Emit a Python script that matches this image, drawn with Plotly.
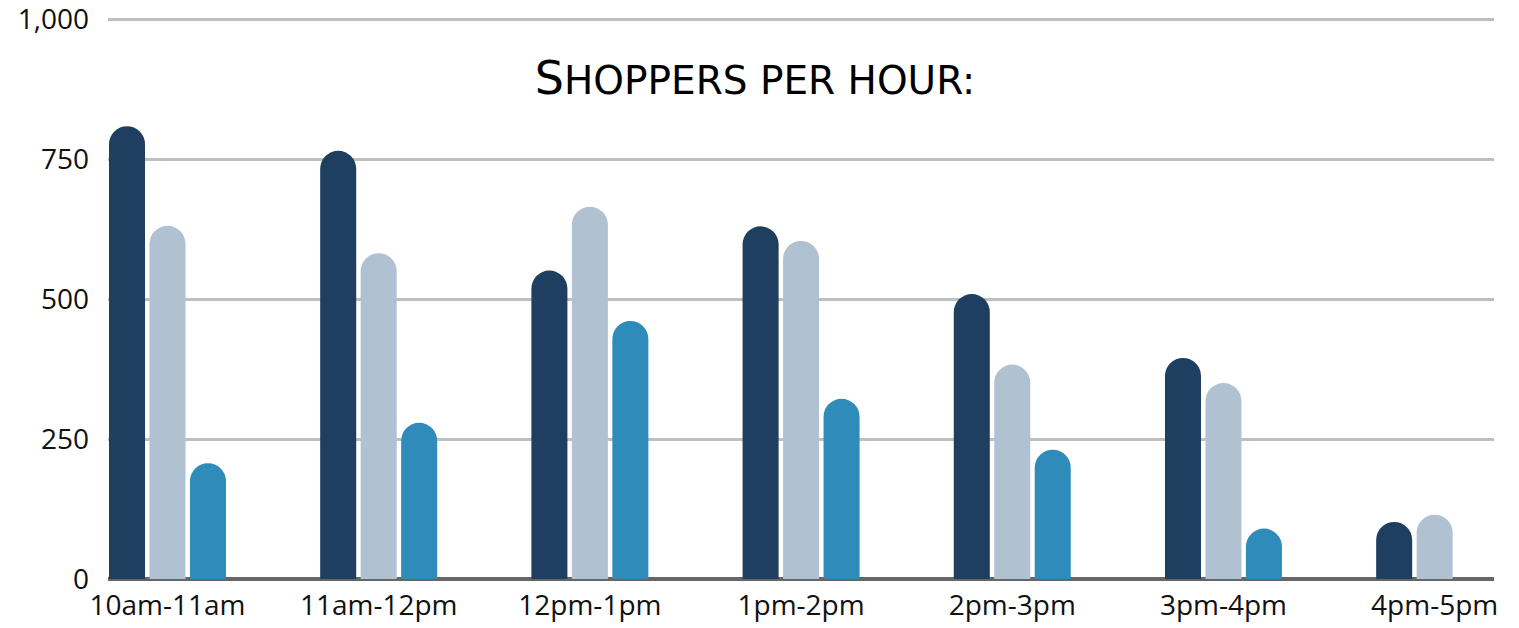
import plotly.graph_objects as go

categories = ["10am-11am", "11am-12pm", "12pm-1pm", "1pm-2pm", "2pm-3pm", "3pm-4pm", "4pm-5pm"]
series_a = [809, 765, 551, 630, 509, 395, 102]
series_b = [631, 582, 665, 604, 383, 350, 115]
series_c = [207, 279, 461, 322, 231, 90, None]
y_ticks = [0, 250, 500, 750, 1000]

colors = ["#1F3F60", "#B0C1D1", "#2E8BBA"]

fig = go.Figure()
for name, vals, col in zip(["Series 1", "Series 2", "Series 3"], [series_a, series_b, series_c], colors):
    fig.add_trace(go.Bar(x=categories, y=vals, name=name, marker=dict(color=col, line=dict(width=0))))

tick_font = dict(family="Open Sans, Lato, sans-serif", size=28, color="#111111")

W, H = 1519, 628
fig.update_layout(
    width=W, height=H,
    margin=dict(l=108, r=25, t=17, b=49),
    paper_bgcolor="white", plot_bgcolor="white",
    showlegend=False,
    barmode="group",
    bargap=0.425,
    bargroupgap=0.11,
    barcornerradius="50%",
    title=dict(
        text='<span style="font-size:46px">S</span>HOPPERS PER HOUR:',
        x=755 / W, xref="container", xanchor="center",
        y=1 - 80 / H, yref="container", yanchor="middle",
        font=dict(family="DejaVu Sans, sans-serif", size=39, color="#000000"),
    ),
    xaxis=dict(
        type="category",
        range=[-0.2817, 6.281],
        showgrid=False, showline=False, zeroline=False,
        ticks="", tickfont=tick_font, automargin=False,
        ticklabelstandoff=7,
    ),
    yaxis=dict(
        range=[0, 1004],
        tickvals=y_ticks,
        tickformat=",",
        showgrid=True, gridcolor="#BFBFBF", gridwidth=2.5,
        zeroline=True, zerolinecolor="#666666", zerolinewidth=4,
        showline=False, ticks="", tickfont=tick_font,
        ticklabelstandoff=18, automargin=False,
        ticklabeloverflow="allow",
    ),
)

fig.write_html(
    "out.html",
    config={"displayModeBar": False},
    post_script="document.body.style.margin='0';",
)
